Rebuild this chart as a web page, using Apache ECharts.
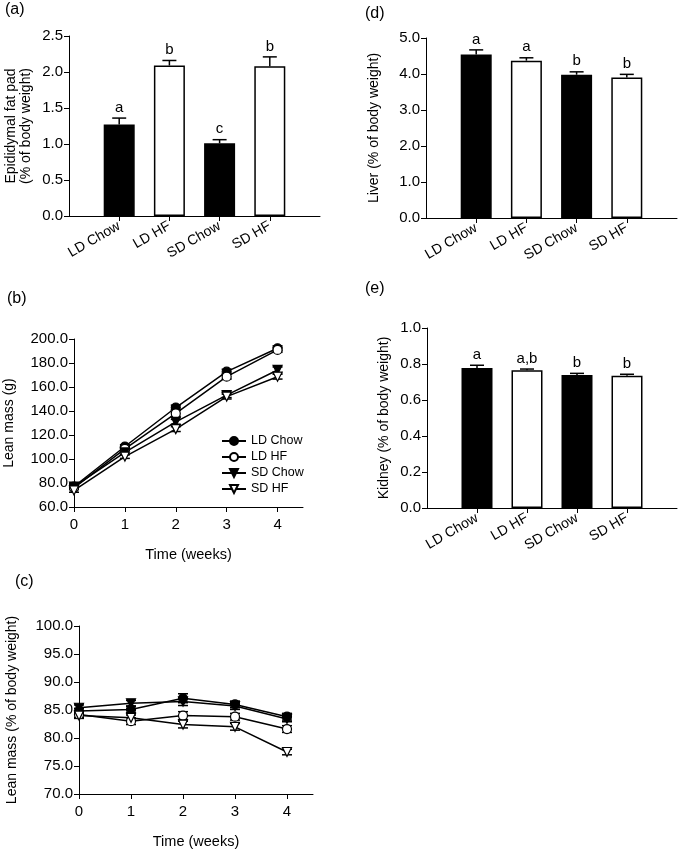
<!DOCTYPE html>
<html>
<head>
<meta charset="utf-8">
<script src="https://cdn.jsdelivr.net/npm/echarts@6/dist/echarts.min.js"></script>
<style>html,body{margin:0;padding:0;background:#fff}#c{width:680px;height:850px}</style>
</head>
<body>
<div id="c"></div>
<script>
// ---- data ----
const cats = ['LD Chow', 'LD HF', 'SD Chow', 'SD HF'];
const catPos = [1, 2, 3, 4];
const fatVals = [1.27, 2.09, 1.01, 2.08];
const fatErr = [0.09, 0.07, 0.05, 0.13];
const fatSig = ['a', 'b', 'c', 'b'];
const liverVals = [4.54, 4.37, 3.98, 3.90];
const liverErr = [0.13, 0.08, 0.08, 0.09];
const liverSig = ['a', 'a', 'b', 'b'];
const kidneyVals = [0.778, 0.765, 0.739, 0.735];
const kidneyErr = [0.015, 0.007, 0.009, 0.008];
const kidneySig = ['a', 'a,b', 'b', 'b'];
const weeks = [0, 1, 2, 3, 4];
const leanG_LDChow = [77.1, 110.4, 142.9, 172.8, 192.3];
const leanG_LDHF = [76.0, 108.5, 138.0, 168.6, 190.9];
const leanG_SDChow = [77.0, 105.5, 131.0, 153.2, 174.2];
const leanG_SDHF = [73.8, 102.0, 124.9, 152.0, 168.6];
const leanGErr_LDChow = [1.5, 1.5, 2.0, 2.0, 2.0];
const leanGErr_LDHF = [1.5, 1.5, 2.5, 2.0, 2.0];
const leanGErr_SDChow = [1.5, 1.5, 2.0, 2.0, 2.5];
const leanGErr_SDHF = [1.5, 1.5, 2.0, 2.0, 2.0];
const leanP_LDChow = [84.8, 85.1, 87.1, 86.0, 83.8];
const leanP_LDHF = [84.2, 83.0, 84.0, 83.8, 81.6];
const leanP_SDChow = [85.4, 86.2, 86.5, 85.7, 83.4];
const leanP_SDHF = [84.0, 83.6, 82.4, 82.0, 77.5];
const leanPErr_LDChow = [0.5, 0.6, 0.8, 0.6, 0.6];
const leanPErr_LDHF = [0.5, 0.6, 0.7, 0.6, 0.6];
const leanPErr_SDChow = [0.5, 0.5, 0.7, 0.6, 0.5];
const leanPErr_SDHF = [0.5, 0.5, 0.6, 0.6, 0.5];

// ---- styling helpers ----
const FONT = 'Liberation Sans, Arial, sans-serif';
const txt = {color: '#000', fontFamily: FONT, fontSize: 15};
const catTxt = {color: '#000', fontFamily: FONT, fontSize: 14};
const axLine = {lineStyle: {color: '#000', width: 1}};

function barX(gi) {
  return {
    gridIndex: gi, type: 'value', min: 0, max: 5,
    axisLine: axLine, splitLine: {show: false},
    axisTick: {customValues: catPos, length: 5, lineStyle: {color: '#000'}},
    axisLabel: Object.assign({customValues: catPos, rotate: 30, margin: 9,
      formatter: v => cats[Math.round(v) - 1] || ''}, catTxt)
  };
}
function valY(gi, min, max, interval, name, gap) {
  return {
    gridIndex: gi, type: 'value', min: min, max: max, interval: interval,
    axisLine: Object.assign({show: true}, axLine), splitLine: {show: false},
    axisTick: {show: true, length: 5, lineStyle: {color: '#000'}},
    axisLabel: Object.assign({margin: 6, formatter: v => v.toFixed(1)}, txt),
    name: name, nameLocation: 'middle', nameGap: gap,
    nameTextStyle: Object.assign({lineHeight: 15}, catTxt)
  };
}
function timeX(gi) {
  return {
    gridIndex: gi, type: 'value', min: 0, max: 4.5,
    axisLine: axLine, splitLine: {show: false},
    axisTick: {customValues: weeks, length: 5, lineStyle: {color: '#000'}},
    axisLabel: Object.assign({customValues: weeks, margin: 10, formatter: v => String(v)}, txt),
    name: 'Time (weeks)', nameLocation: 'middle', nameGap: 40,
    nameTextStyle: {color: '#000', fontFamily: FONT, fontSize: 14.5}
  };
}
function barSeries(gi, vals) {
  return {
    type: 'bar', xAxisIndex: gi, yAxisIndex: gi, barWidth: 31, silent: true,
    data: vals.map((v, i) => ({
      value: [catPos[i], v],
      itemStyle: {color: cats[i].indexOf('Chow') >= 0 ? '#000' : '#fff', borderColor: '#000', borderWidth: 1.5}
    }))
  };
}
function upperErr(gi, vals, errs, sigs) {
  return {
    type: 'custom', xAxisIndex: gi, yAxisIndex: gi, silent: true, z: 5,
    data: vals.map((v, i) => [catPos[i], v, errs[i]]),
    renderItem: function (params, api) {
      const x = api.value(0), y = api.value(1), e = api.value(2);
      const p0 = api.coord([x, y]), p1 = api.coord([x, y + e]);
      const hw = 7;
      return {type: 'group', children: [
        {type: 'line', shape: {x1: p0[0], y1: p0[1], x2: p1[0], y2: p1[1]}, style: {stroke: '#000', lineWidth: 1.5}},
        {type: 'line', shape: {x1: p1[0] - hw, y1: p1[1], x2: p1[0] + hw, y2: p1[1]}, style: {stroke: '#000', lineWidth: 1.5}},
        {type: 'text', style: {text: sigs[params.dataIndex], x: p1[0], y: p1[1] - 3, align: 'center', verticalAlign: 'bottom',
          fontSize: 15, fontFamily: FONT, fill: '#000'}}
      ]};
    }
  };
}
function bothErr(gi, vals, errs) {
  return {
    type: 'custom', xAxisIndex: gi, yAxisIndex: gi, silent: true, z: 1,
    data: vals.map((v, i) => [weeks[i], v, errs[i]]),
    renderItem: function (params, api) {
      const x = api.value(0), y = api.value(1), e = api.value(2);
      const pt = api.coord([x, y + e]), pb = api.coord([x, y - e]);
      const hw = 5, st = {stroke: '#000', lineWidth: 1.5};
      return {type: 'group', children: [
        {type: 'line', shape: {x1: pt[0], y1: pt[1], x2: pb[0], y2: pb[1]}, style: st},
        {type: 'line', shape: {x1: pt[0] - hw, y1: pt[1], x2: pt[0] + hw, y2: pt[1]}, style: st},
        {type: 'line', shape: {x1: pb[0] - hw, y1: pb[1], x2: pb[0] + hw, y2: pb[1]}, style: st}
      ]};
    }
  };
}
const markerDefs = [
  {name: 'LD Chow', symbol: 'circle', rot: 0, fill: '#000'},
  {name: 'LD HF', symbol: 'circle', rot: 0, fill: '#fff'},
  {name: 'SD Chow', symbol: 'triangle', rot: 180, fill: '#000'},
  {name: 'SD HF', symbol: 'triangle', rot: 180, fill: '#fff'}
];
function lineSeries(gi, k, vals) {
  const m = markerDefs[k];
  return {
    type: 'line', name: m.name, xAxisIndex: gi, yAxisIndex: gi, silent: true, z: 3,
    symbol: m.symbol, symbolRotate: m.rot, symbolSize: 9, showAllSymbol: true,
    lineStyle: {color: '#000', width: 1.5},
    itemStyle: {color: m.fill, borderColor: '#000', borderWidth: 1.2},
    data: vals.map((v, i) => [weeks[i], v])
  };
}

const leanG = [leanG_LDChow, leanG_LDHF, leanG_SDChow, leanG_SDHF];
const leanGErr = [leanGErr_LDChow, leanGErr_LDHF, leanGErr_SDChow, leanGErr_SDHF];
const leanP = [leanP_LDChow, leanP_LDHF, leanP_SDChow, leanP_SDHF];
const leanPErr = [leanPErr_LDChow, leanPErr_LDHF, leanPErr_SDChow, leanPErr_SDHF];

const series = [
  barSeries(0, fatVals), upperErr(0, fatVals, fatErr, fatSig),
  barSeries(3, liverVals), upperErr(3, liverVals, liverErr, liverSig),
  barSeries(4, kidneyVals), upperErr(4, kidneyVals, kidneyErr, kidneySig)
];
for (let k = 0; k < 4; k++) series.push(bothErr(1, leanG[k], leanGErr[k]));
for (let k = 0; k < 4; k++) series.push(lineSeries(1, k, leanG[k]));
for (let k = 0; k < 4; k++) series.push(bothErr(2, leanP[k], leanPErr[k]));
for (let k = 0; k < 4; k++) {
  const s = lineSeries(2, k, leanP[k]);
  s.name = s.name + ' ';
  series.push(s);
}

const panelLabel = (t, x, y) => ({type: 'text', left: x, top: y, style: {text: t, fontSize: 16, fontFamily: FONT, fill: '#000'}});

const option = {
  animation: false,
  backgroundColor: '#fff',
  textStyle: {fontFamily: FONT},
  grid: [
    {left: 69, top: 36, width: 251, height: 180},
    {left: 74, top: 339, width: 229, height: 168},
    {left: 79, top: 626, width: 234, height: 169},
    {left: 426, top: 38, width: 251, height: 180},
    {left: 427, top: 328, width: 250, height: 180}
  ],
  xAxis: [barX(0), timeX(1), timeX(2), barX(3), barX(4)],
  yAxis: [
    valY(0, 0, 2.5, 0.5, 'Epididymal fat pad\n(% of body weight)', 35),
    valY(1, 60, 200, 20, 'Lean mass (g)', 57),
    valY(2, 70, 100, 5, 'Lean mass (% of body weight)', 59),
    valY(3, 0, 5, 1, 'Liver (% of body weight)', 44),
    valY(4, 0, 1, 0.2, 'Kidney (% of body weight)', 35)
  ],
  legend: {
    data: cats, left: 216, top: 429, orient: 'vertical',
    itemWidth: 24, itemHeight: 10, itemGap: 2,
    textStyle: {color: '#000', fontFamily: FONT, fontSize: 12.5, lineHeight: 14},
    selectedMode: false
  },
  graphic: [
    panelLabel('(a)', 5, 2),
    panelLabel('(b)', 7, 291),
    panelLabel('(c)', 15, 574),
    panelLabel('(d)', 365, 6),
    panelLabel('(e)', 365, 281)
  ],
  series: series
};
const chart = echarts.init(document.getElementById('c'), null, {renderer: 'canvas'});
chart.setOption(option);
</script>
</body>
</html>
